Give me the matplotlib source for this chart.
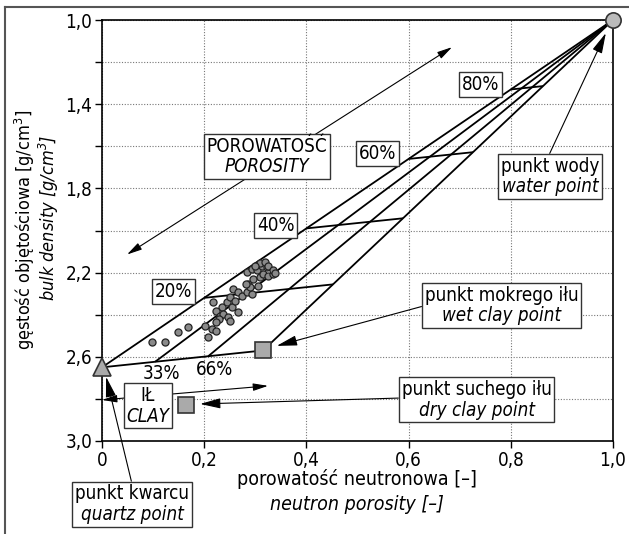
import matplotlib
matplotlib.use("Agg")
import matplotlib.pyplot as plt
from matplotlib.lines import Line2D
from matplotlib.offsetbox import AnnotationBbox, TextArea, VPacker
from matplotlib.ticker import FixedLocator, FuncFormatter

plt.rcParams["font.family"] = ["DejaVu Sans"]
plt.rcParams["font.stretch"] = "condensed"
plt.rcParams["mathtext.default"] = "regular"

# punkty charakterystyczne (NPHI, RHOB)
quartz = (0.0, 2.65)
water = (1.0, 1.0)
wet_clay = (0.315, 2.57)
dry_clay = (0.165, 2.83)

shale_frac = [0.0, 0.33, 0.66, 1.0]
shale_labels = ["33%", "66%"]
shale_label_pos = [(0.117, 2.68), (0.221, 2.66)]
porosity_levels = [0.2, 0.4, 0.6, 0.8]
porosity_labels = ["20%", "40%", "60%", "80%"]
porosity_label_pos = [(0.14, 2.29), (0.34, 1.975), (0.54, 1.635), (0.74, 1.307)]

# pomiary
nphi = [0.097, 0.123, 0.149, 0.169, 0.202, 0.208, 0.215, 0.224, 0.218, 0.234,
        0.224, 0.231, 0.237, 0.228, 0.247, 0.250, 0.224, 0.244, 0.250, 0.254,
        0.260, 0.257, 0.267, 0.273, 0.267, 0.283, 0.293, 0.286, 0.306, 0.296,
        0.309, 0.283, 0.293, 0.303, 0.313, 0.316, 0.322, 0.325, 0.335, 0.309,
        0.319, 0.325, 0.335, 0.339, 0.299, 0.290, 0.282]
rhob = [2.532, 2.532, 2.484, 2.460, 2.452, 2.508, 2.468, 2.476, 2.341, 2.365,
        2.381, 2.405, 2.397, 2.421, 2.413, 2.429, 2.437, 2.341, 2.318, 2.365,
        2.333, 2.278, 2.294, 2.310, 2.389, 2.294, 2.302, 2.254, 2.262, 2.230,
        2.222, 2.198, 2.182, 2.190, 2.167, 2.206, 2.175, 2.214, 2.206, 2.156,
        2.151, 2.167, 2.190, 2.203, 2.171, 2.267, 2.254]

W, H = 629, 534
FS = 13.5
fig = plt.figure(figsize=(W / 100, H / 100), dpi=100)
ax = fig.add_axes([102 / W, 1 - 441 / H, 511 / W, 421 / H])

# ramka rysunku
fig.add_artist(Line2D([5 / W, 5 / W], [0, 1 - 7 / H], transform=fig.transFigure,
                      color="#555555", lw=1.5))
fig.add_artist(Line2D([5 / W, 1], [1 - 7 / H, 1 - 7 / H], transform=fig.transFigure,
                      color="#555555", lw=1.5))

ax.set_xlim(0, 1.0)
ax.set_ylim(3.0, 1.0)
ax.xaxis.set_major_locator(FixedLocator([0, 0.2, 0.4, 0.6, 0.8, 1.0]))
ax.yaxis.set_major_locator(FixedLocator([1.0, 1.4, 1.8, 2.2, 2.6, 3.0]))
ax.yaxis.set_minor_locator(FixedLocator([1.2, 1.6, 2.0, 2.4, 2.8]))
ax.xaxis.set_major_formatter(FuncFormatter(lambda v, p: "0" if v == 0 else f"{v:.1f}".replace(".", ",")))
ax.yaxis.set_major_formatter(FuncFormatter(lambda v, p: f"{v:.1f}".replace(".", ",")))
ax.tick_params(which="both", direction="out", length=5, width=1, labelsize=13.5, pad=2)
ax.grid(True, which="both", linestyle=(0, (1, 1.5)), color="#777777", lw=0.8)
ax.set_axisbelow(True)
for s in ax.spines.values():
    s.set_linewidth(1.2)

lk = dict(color="black", lw=1.3, zorder=2, solid_capstyle="butt")

# linie od matrycy do punktu wody
matrix_pts = []
for f in shale_frac:
    mx = quartz[0] + f * (wet_clay[0] - quartz[0])
    my = quartz[1] + f * (wet_clay[1] - quartz[1])
    matrix_pts.append((mx, my))
    ax.plot([mx, water[0]], [my, water[1]], **lk)
ax.plot([quartz[0], wet_clay[0]], [quartz[1], wet_clay[1]], **lk)

# linie stałej porowatości
for phi in porosity_levels:
    xs = [mx + phi * (water[0] - mx) for mx, my in matrix_pts]
    ys = [my + phi * (water[1] - my) for mx, my in matrix_pts]
    ax.plot(xs, ys, **lk)

box = dict(boxstyle="square,pad=0.15", fc="white", ec="#333333", lw=1)
for lab, (x, y) in zip(porosity_labels, porosity_label_pos):
    ax.text(x, y, lab, fontsize=FS, ha="center", va="center", bbox=box, zorder=5)
for lab, (x, y) in zip(shale_labels, shale_label_pos):
    ax.text(x, y, lab, fontsize=FS, ha="center", va="center", zorder=5)

ax.scatter(nphi, rhob, s=26, c="#8a8a8a", edgecolors="#222222", linewidths=0.9, zorder=4)

ax.plot(*water, "o", ms=11, mfc="#bbbbbb", mec="#333333", mew=1.2, zorder=6, clip_on=False)
ax.plot(*quartz, "^", ms=13, mfc="#aaaaaa", mec="#333333", mew=1.2, zorder=6, clip_on=False)
ax.plot(*wet_clay, "s", ms=11, mfc="#aaaaaa", mec="#333333", mew=1.2, zorder=6)
ax.plot(*dry_clay, "s", ms=11, mfc="#aaaaaa", mec="#333333", mew=1.2, zorder=6)

arr1 = dict(arrowstyle="-|>,head_length=0.6,head_width=0.15", color="black", lw=0.8,
            mutation_scale=15, shrinkA=0, shrinkB=0)
arr2 = dict(arrowstyle="<|-|>,head_length=0.6,head_width=0.15", color="black", lw=0.8,
            mutation_scale=15, shrinkA=0, shrinkB=0)

ax.annotate("", xy=(0.049, 2.114), xytext=(0.685, 1.129), arrowprops=arr2, zorder=3)
ax.annotate("", xy=(0.0, 2.805), xytext=(0.325, 2.738), arrowprops=arr2, zorder=3,
            annotation_clip=False)


def label_box(l1, l2, xybox, xy=None, relpos=(0.5, 0.5)):
    ta = VPacker(children=[TextArea(l1, textprops=dict(fontsize=FS)),
                           TextArea(l2, textprops=dict(fontsize=FS, style="italic"))],
                 align="center", pad=0, sep=1)
    props = None
    if xy is not None:
        props = dict(arr1, relpos=relpos)
    ab = AnnotationBbox(ta, xy if xy is not None else xybox, xybox=xybox,
                        xycoords="data", boxcoords="data", pad=0.2,
                        bboxprops=dict(ec="#333333", lw=1, fc="white"),
                        arrowprops=props, annotation_clip=False, zorder=7)
    ax.add_artist(ab)


label_box("POROWATOŚĆ", "POROSITY", (0.323, 1.648))
label_box("IŁ", "CLAY", (0.09, 2.833))
label_box("punkt wody", "water point", (0.877, 1.743), xy=(0.986, 1.062), relpos=(0.48, 1))
label_box("punkt mokrego iłu", "wet clay point", (0.782, 2.357), xy=(0.342, 2.548), relpos=(0, 0.5))
label_box("punkt suchego iłu", "dry clay point", (0.733, 2.805), xy=(0.192, 2.824), relpos=(0, 0.55))
label_box("punkt kwarcu", "quartz point", (0.059, 3.30), xy=(0.008, 2.695), relpos=(0.5, 1))

# opisy osi
fig.text(25 / W, 1 - 230 / H, "gęstość objętościowa [g/cm$^3$]", rotation=90,
         ha="center", va="center", fontsize=13)
fig.text(49 / W, 1 - 218 / H, "bulk density [g/cm$^3$]", rotation=90,
         ha="center", va="center", fontsize=13, style="italic")
fig.text(357 / W, 1 - 479 / H, "porowatość neutronowa [–]", ha="center", va="center", fontsize=FS + 0.5)
fig.text(357 / W, 1 - 504 / H, "neutron porosity [–]", ha="center", va="center",
         fontsize=FS + 0.5, style="italic")

fig.savefig("out.png", dpi=100)
